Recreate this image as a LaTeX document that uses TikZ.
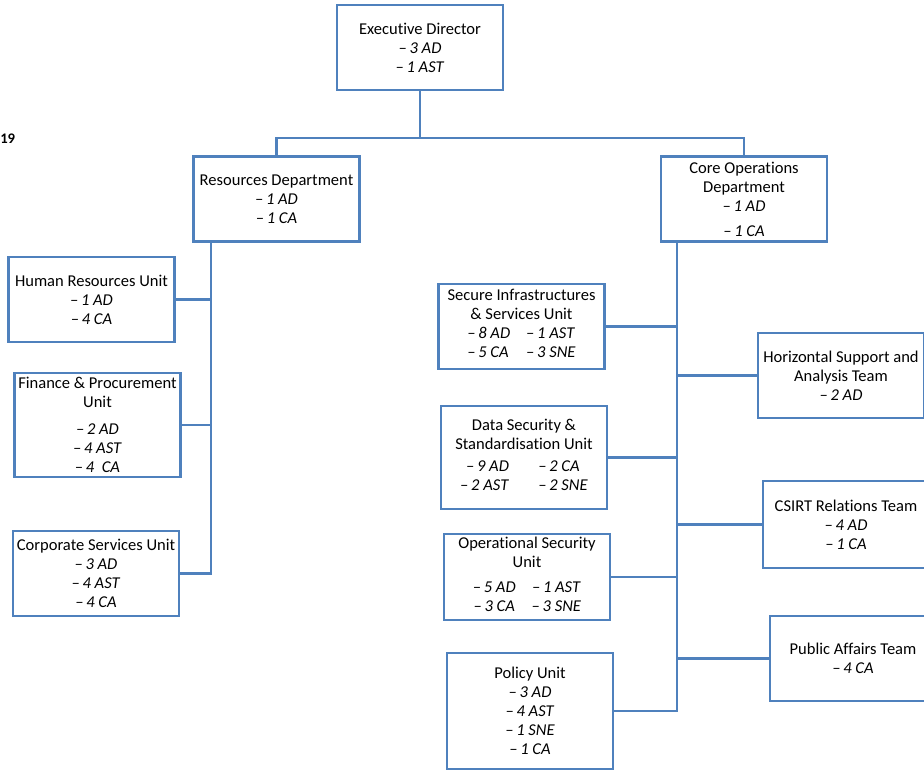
\documentclass[tikz,border=0pt]{standalone}
\usepackage{fontspec}
\setmainfont{Carlito}[Ligatures=NoCommon]
\usepackage{tikz}

\definecolor{orgblue}{HTML}{4F81BD}
\tikzset{
    orgbox/.style={draw=orgblue, line width=1.8pt, minimum width=124.5pt,
        minimum height=63.75pt, align=center, inner sep=1pt,
        font=\fontsize{12.4}{14.25}\selectfont},
    orglink/.style={draw=orgblue, line width=1.9pt},
}
\newcommand{\staff}[1]{\textit{–\,#1}}

\begin{document}
\begin{tikzpicture}[x=0.75pt,y=-0.75pt]
    \useasboundingbox (0,0) rectangle (924,769);
    \clip (0,0) rectangle (924,769);

    \node (pagenum) [anchor=west, inner sep=0pt, font=\fontsize{11}{12}\selectfont\bfseries] at (0,139) {19};

    % management
    \node (ed) [orgbox] at (420,47.5) {Executive Director\\ \staff{3 AD}\\ \staff{1 AST}};
    \node (res) [orgbox] at (276.5,199) {Resources Department\\ \staff{1 AD}\\ \staff{1 CA}};
    \node (core) [orgbox] at (744,199) {Core Operations\\ Department\\ \staff{1 AD}\\[4.5pt] \staff{1 CA}};

    % resources units
    \node (hr) [orgbox] at (91.5,299.5) {Human Resources Unit\\ \staff{1 AD}\\ \staff{4 CA}};
    \node (fin) [orgbox, minimum height=78pt] at (97.5,425) {Finance \& Procurement\\ Unit\\[6pt] \staff{2 AD}\\ \staff{4 AST}\\ \staff{4 \ CA}};
    \node (corp) [orgbox] at (96,573.5) {Corporate Services Unit\\ \staff{3 AD}\\ \staff{4 AST}\\ \staff{4 CA}};

    % core operations units
    \node (sis) [orgbox] at (521.5,326.5) {Secure Infrastructures\\ \& Services Unit\\
        \begin{tabular}[t]{@{}l@{\hspace{12pt}}l@{}}\staff{8 AD} & \staff{1 AST}\\ \staff{5 CA} & \staff{3 SNE}\end{tabular}};
    \node (dss) [orgbox, minimum height=77.25pt] at (524,457.5) {Data Security \&\\ Standardisation Unit\\[2pt]
        \begin{tabular}[t]{@{}r@{\hspace{22pt}}l@{}}\staff{9 AD} & \staff{2 CA}\\ \staff{2 AST} & \staff{2 SNE}\end{tabular}};
    \node (ops) [orgbox, minimum height=64.5pt] at (527,577) {Operational Security\\ Unit\\[5pt]
        \begin{tabular}[t]{@{}c@{\hspace{12pt}}c@{}}\staff{5 AD} & \staff{1 AST}\\ \staff{3 CA} & \staff{3 SNE}\end{tabular}};
    \node (pol) [orgbox, minimum height=87pt] at (530,711) {Policy Unit\\ \staff{3 AD}\\ \staff{4 AST}\\ \staff{1 SNE}\\ \staff{1 CA}};

    % teams
    \node (hsa) [orgbox] at (841,375.5) {Horizontal Support and\\ Analysis Team\\ \staff{2 AD}};
    \node (csirt) [orgbox, minimum height=65.25pt] at (846,524.5) {CSIRT Relations Team\\ \staff{4 AD}\\ \staff{1 CA}};
    \node (pub) [orgbox] at (853,658.5) {Public Affairs Team\\ \staff{4 CA}};

    % connectors
    \coordinate (topbar) at (420,138);
    \coordinate (leftbus) at (211,0);
    \coordinate (rightbus) at (677,0);
    \draw[orglink] (ed.south) -- (ed.south |- topbar);
    \draw[orglink] (res.north) |- (topbar) -| (core.north);
    \draw[orglink] (res.south -| leftbus) |- (corp.east);
    \foreach \u in {hr,fin}
        \draw[orglink] (\u.east) -- (\u.east -| leftbus);
    \draw[orglink] (core.south -| rightbus) |- (pol.east);
    \foreach \u in {sis,dss,ops}
        \draw[orglink] (\u.east) -- (\u.east -| rightbus);
    \foreach \u in {hsa,csirt,pub}
        \draw[orglink] (\u.west) -- (\u.west -| rightbus);
\end{tikzpicture}
\end{document}
